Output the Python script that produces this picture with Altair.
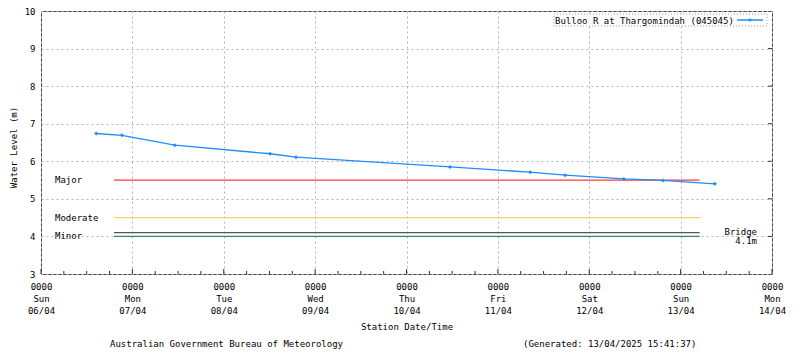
import altair as alt
import pandas as pd

# ---- data ----
series_name = "Bulloo R at Thargomindah (045045)"
obs_times = [
    "2025-04-06T14:30:00Z", "2025-04-06T21:15:00Z", "2025-04-07T11:10:00Z",
    "2025-04-08T12:10:00Z", "2025-04-08T19:00:00Z", "2025-04-10T11:25:00Z",
    "2025-04-11T08:30:00Z", "2025-04-11T17:40:00Z", "2025-04-12T09:05:00Z",
    "2025-04-12T19:20:00Z", "2025-04-13T09:00:00Z",
]
obs_levels = [6.74, 6.69, 6.43, 6.20, 6.11, 5.85, 5.71, 5.63, 5.53, 5.49, 5.40]

threshold_names = ["Major", "Moderate", "Bridge", "Minor"]
threshold_levels = [5.5, 4.5, 4.1, 4.0]
threshold_colors = ["#ff3c3c", "#ffcc66", "#555555", "#2e8b57"]
threshold_start = "2025-04-06T19:10:00Z"
threshold_end = "2025-04-13T05:00:00Z"
left_labels = ["Major", "Moderate", "Minor"]
left_label_levels = [5.5, 4.5, 4.0]
bridge_lines = ["Bridge", "4.1m"]
bridge_level = 4.1

day_numbers = [6, 7, 8, 9, 10, 11, 12, 13, 14]
y_ticks = [3, 4, 5, 6, 7, 8, 9, 10]
footer_left = "Australian Government Bureau of Meteorology"
footer_right = "(Generated: 13/04/2025 15:41:37)"

# ---- tables ----
series_df = pd.DataFrame({"t": obs_times, "level": obs_levels})
thr_df = pd.DataFrame({
    "name": threshold_names, "level": threshold_levels, "color": threshold_colors,
    "start": [threshold_start] * 4, "end": [threshold_end] * 4,
})
left_df = pd.DataFrame({"name": left_labels, "level": left_label_levels})
bridge_df = pd.DataFrame({"name": [bridge_lines[0]], "sub": [bridge_lines[1]], "level": [bridge_level]})
major_tick_df = pd.DataFrame({"t": ["2025-04-%02dT00:00:00Z" % d for d in day_numbers]})
minor_tick_df = pd.DataFrame({"t": ["2025-04-%02dT%02d:00:00Z" % (d, h)
                                    for d in day_numbers[:-1] for h in (6, 12, 18)]})
ytick_df = pd.DataFrame({"v": y_ticks[1:-1]})
one = pd.DataFrame({"k": [0]})

FONT = "DejaVu Sans Mono"
BLUE = "#1e8cff"
W, H = 731, 263

xscale = alt.Scale(type="utc", domain=[
    alt.DateTime(year=2025, month=4, date=day_numbers[0], utc=True),
    alt.DateTime(year=2025, month=4, date=day_numbers[-1], utc=True)])
yscale = alt.Scale(domain=[y_ticks[0], y_ticks[-1]], nice=False, zero=False)

xaxis = alt.Axis(
    values=[alt.DateTime(year=2025, month=4, date=d, utc=True) for d in day_numbers],
    labelExpr="[utcFormat(datum.value, '%H%M'), utcFormat(datum.value, '%a'), utcFormat(datum.value, '%d/%m')]",
    labelLineHeight=12, labelBaseline="top", labelPadding=8, labelFlush=False,
    labelOverlap=False, labelBound=False, ticks=False, domain=False,
    grid=True, gridDash=[2, 3], gridColor="#b4b4b4",
    titleY=52, titleBaseline="middle",
)
yaxis = alt.Axis(
    values=y_ticks, labelPadding=6, ticks=False, domain=False,
    grid=True, gridDash=[2, 3], gridColor="#b4b4b4",
    titleX=-28, titleY=136, titleAngle=270, titleBaseline="middle", titleAlign="center",
)


def X(field):
    return alt.X(field, type="temporal", scale=xscale, axis=xaxis, title="Station Date/Time")


def Y(field):
    return alt.Y(field, type="quantitative", scale=yscale, axis=yaxis, title="Water Level (m)")


thr = alt.Chart(thr_df).mark_rule(strokeWidth=1.3).encode(
    x=X("start"), x2="end", y=Y("level"), color=alt.Color("color:N", scale=None))

line = alt.Chart(series_df).mark_line(color=BLUE, strokeWidth=1.3).encode(x=X("t"), y=Y("level"))
pts = alt.Chart(series_df).mark_point(shape="diamond", filled=True, size=16, color=BLUE, opacity=1).encode(
    x=X("t"), y=Y("level"))

left_txt = alt.Chart(left_df).mark_text(align="left", baseline="middle", font=FONT, fontSize=9).encode(
    x=alt.value(14), y=Y("level"), text="name:N")
bridge_txt = alt.Chart(bridge_df).mark_text(align="right", baseline="middle", dy=-1, font=FONT, fontSize=9).encode(
    x=alt.value(716), y=Y("level"), text="name:N")
bridge_txt2 = alt.Chart(bridge_df).mark_text(align="right", baseline="middle", dy=8, font=FONT, fontSize=9).encode(
    x=alt.value(716), y=Y("level"), text="sub:N")

major_ticks = alt.Chart(major_tick_df).mark_rule(color="#333", strokeWidth=1).encode(
    x=X("t"), y=alt.value(H), y2=alt.value(H - 5))
minor_ticks = alt.Chart(minor_tick_df).mark_rule(color="#333", strokeWidth=1).encode(
    x=X("t"), y=alt.value(H), y2=alt.value(H - 3))
right_ticks = alt.Chart(ytick_df).mark_rule(color="#333", strokeWidth=1).encode(
    y=Y("v"), x=alt.value(W - 4), x2=alt.value(W))

# legend box
leg_box = alt.Chart(one).mark_rect(fill="white", stroke="#9a9a9a", strokeDash=[1, 2], strokeWidth=1).encode(
    x=alt.value(513), x2=alt.value(726), y=alt.value(3), y2=alt.value(15))
leg_txt = alt.Chart(one).mark_text(align="left", baseline="middle", font=FONT, fontSize=9).encode(
    x=alt.value(514), y=alt.value(9.5), text=alt.value(series_name))
leg_line = alt.Chart(one).mark_rule(color=BLUE, strokeWidth=1.5).encode(
    x=alt.value(696), x2=alt.value(722), y=alt.value(9))
leg_pt = alt.Chart(one).mark_point(shape="diamond", filled=True, size=16, color=BLUE).encode(
    x=alt.value(709), y=alt.value(9))

foot1 = alt.Chart(one).mark_text(align="left", baseline="middle", font=FONT, fontSize=9).encode(
    x=alt.value(69), y=alt.value(333), text=alt.value(footer_left))
foot2 = alt.Chart(one).mark_text(align="left", baseline="middle", font=FONT, fontSize=9).encode(
    x=alt.value(482), y=alt.value(333), text=alt.value(footer_right))

chart = alt.layer(
    thr, line, pts, left_txt, bridge_txt, bridge_txt2,
    major_ticks, minor_ticks, right_ticks,
    leg_box, leg_txt, leg_line, leg_pt, foot1, foot2,
).properties(
    width=W, height=H,
    autosize=alt.AutoSizeParams(type="none"),
    padding={"left": 33, "top": 3, "right": 20, "bottom": 76},
).configure_view(
    stroke="#444444", strokeWidth=1
).configure_axis(
    labelFont=FONT, labelFontSize=9, labelColor="#000000",
    titleFont=FONT, titleFontSize=9, titleFontWeight="normal", titleColor="#000000",
).configure_text(font=FONT)

chart.save("out.html", embed_options={"renderer": "svg", "actions": False})
